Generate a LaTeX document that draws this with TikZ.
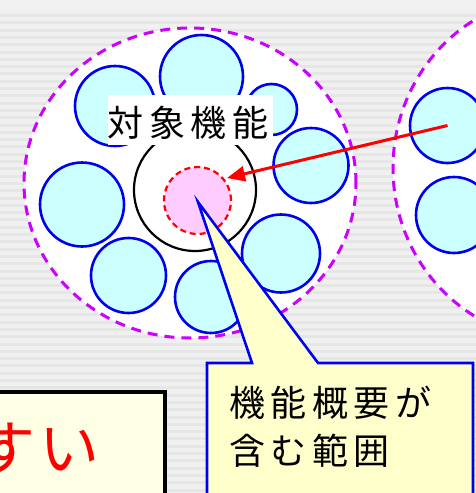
\documentclass[tikz,border=0pt]{standalone}
\usepackage{fontspec}
\newfontfamily\jp{Noto Sans CJK JP}
\usetikzlibrary{arrows.meta}
\definecolor{bggray}{HTML}{F0F0F0}
\definecolor{bgstripe}{HTML}{E6E6E6}
\definecolor{cyanfill}{HTML}{CCFFFF}
\definecolor{pinkfill}{HTML}{FFCCFF}
\definecolor{purpdash}{HTML}{CC00FF}
\definecolor{calloutfill}{HTML}{FFFFCC}
\definecolor{boxfill}{HTML}{FFFFE6}
\definecolor{cblue}{HTML}{0000F0}
\tikzset{
  groupell/.style={draw=purpdash, line width=3pt, dash pattern=on 10pt off 7pt, fill=white},
  memb/.style={circle, draw=cblue, line width=2.6pt, fill=cyanfill, inner sep=0pt},
  ring/.style={circle, draw=black, line width=2.2pt, inner sep=0pt},
  core/.style={circle, draw=red, line width=2.2pt, dash pattern=on 6pt off 4pt, fill=pinkfill, inner sep=0pt},
  jtext/.style={font=\jp\fontsize{36}{48}\selectfont, inner sep=0pt},
  redarrow/.style={draw=red, line width=3pt, -{Triangle[length=18pt,width=15pt]}},
}
\newcommand{\ls}{\hspace{5.5pt}}
\begin{document}
\begin{tikzpicture}[x=1pt,y=-1pt]
\useasboundingbox (0,0) rectangle (476,493);
\clip (0,0) rectangle (476,493);
% background
\fill[bggray] (0,0) rectangle (476,493);
\foreach \yy in {14,21.3,...,493} \fill[bgstripe] (0,\yy) rectangle (476,\yy+3);
% group ellipses
\draw[groupell] (190,183) ellipse [x radius=166pt, y radius=155pt];
\draw[groupell] (559,168) ellipse [x radius=166pt, y radius=172pt];
% member circles
\node[memb, minimum size=80pt] (cA) at (115,106) {};
\node[memb, minimum size=83pt] (cB) at (201.5,76.5) {};
\node[memb, minimum size=51pt] (cC) at (271.5,109.5) {};
\node[memb, minimum size=75pt] (cD) at (311,165.5) {};
\node[memb, minimum size=78pt] (cE) at (281,253.5) {};
\node[memb, minimum size=72pt] (cF) at (211,297) {};
\node[memb, minimum size=75pt] (cG) at (128.5,275.5) {};
\node[memb, minimum size=84pt] (cH) at (82,204.5) {};
\node[memb, minimum size=75pt] (r1) at (447.5,125.5) {};
\node[memb, minimum size=76pt] (r2) at (454,215) {};
% target
\node[ring, minimum size=122pt] (target) at (195,190) {};
\node[core, minimum size=67pt] (core) at (197.5,200.5) {};
% label
\fill[white] (108,95) rectangle (273,145);
\node[jtext, anchor=base] (lbl) at (188,136) {対\ls 象\ls 機\ls 能};
% arrow
\coordinate (tip) at (227,178);
\draw[redarrow] (r1.center) -- (tip);
% callout
\coordinate (ptr) at (198,202);
\draw[cblue, line width=2.6pt, fill=calloutfill, line join=miter]
  (207,363) -- (252,363) -- (ptr) -- (318,363) -- (473,363) -- (473,510) -- (207,510) -- cycle;
\node[jtext, anchor=base west] (call1) at (229,416) {機\ls 能\ls 概\ls 要\ls が};
\node[jtext, anchor=base west] (call2) at (229,464) {含\ls む\ls 範\ls 囲};
% bottom-left box
\draw[black, line width=4pt, fill=boxfill] (-20,392) rectangle (165,520);
\node[font=\jp\fontsize{60}{70}\selectfont, text=red, inner sep=0pt, anchor=base east] (easy) at (100,470) {す\hspace{4pt}い};
\end{tikzpicture}
\end{document}
